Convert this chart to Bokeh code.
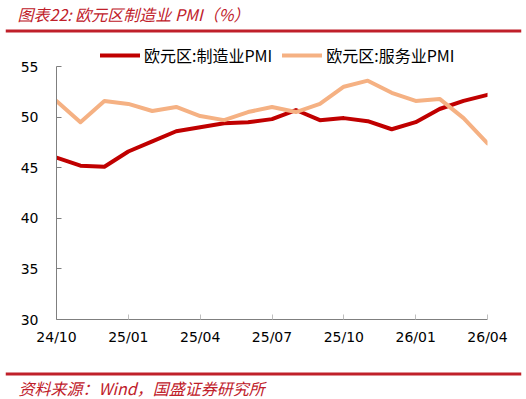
from bokeh.plotting import figure
from bokeh.layouts import column
from bokeh.models import Range1d, FixedTicker, Legend, LegendItem, Label, Span
from bokeh.embed import file_html
from bokeh.resources import INLINE

# ---- data ----
tick_labels = ["24/10", "25/01", "25/04", "25/07", "25/10", "26/01", "26/04"]
tick_pos = [0, 3, 6, 9, 12, 15, 18]
month_idx = list(range(19))
mfg_pmi = [46.0, 45.2, 45.1, 46.6, 47.6, 48.6, 49.0, 49.4, 49.5, 49.8, 50.7,
           49.7, 49.9, 49.6, 48.8, 49.5, 50.8, 51.6, 52.2]
svc_pmi = [51.6, 49.5, 51.6, 51.3, 50.6, 51.0, 50.1, 49.7, 50.5, 51.0, 50.5,
           51.3, 53.0, 53.6, 52.4, 51.6, 51.8, 49.9, 47.4]
series_names = ["欧元区:制造业PMI", "欧元区:服务业PMI"]
title_text = "图表22:  欧元区制造业 PMI（%）"
source_text = "资料来源：Wind，国盛证券研究所"

W = 526
HEAD_H, MAIN_H, FOOT_H = 40, 315, 44
L, R = 56, 39
frame_h = 279  # canvas 40 .. 319
px_per_unit = (319 - 66) / 25.0
y_top = 30 + frame_h / px_per_unit

red = "#C00000"
peach = "#F5B183"
title_red = "#C0202A"
cjk = "Noto Sans CJK SC"


def banner(height, line_y, text, text_y, text_x):
    f = figure(width=W, height=height, output_backend="svg", toolbar_location=None,
               x_range=Range1d(0, 1), y_range=Range1d(height, 0),
               x_axis_type=None, y_axis_type=None, frame_align=False,
               min_border_left=5, min_border_right=5, min_border_top=0, min_border_bottom=0)
    f.outline_line_color = None
    f.grid.visible = False
    f.add_layout(Span(location=line_y, dimension="width", line_color=title_red, line_width=3))
    f.add_layout(Label(x=text_x - 5, y=height - text_y, x_units="screen", y_units="screen",
                       text=text, text_font=cjk, text_font_style="italic",
                       text_font_size="16px", text_color=title_red, text_baseline="middle"))
    return f


head = banner(HEAD_H, 30.5, title_text, 13, 17)
foot = banner(FOOT_H, 373.5 - (HEAD_H + MAIN_H), source_text, 387 - (HEAD_H + MAIN_H), 18)

p = figure(width=W, height=MAIN_H, output_backend="svg", toolbar_location=None,
           x_range=Range1d(0, 18), y_range=Range1d(30, y_top), frame_align=False,
           min_border_left=L, min_border_right=R, min_border_top=0,
           min_border_bottom=MAIN_H - frame_h)
p.outline_line_color = None
p.grid.visible = False

r1 = p.line(month_idx, mfg_pmi, line_color=red, line_width=4, line_join="round", line_cap="round")
r2 = p.line(month_idx, svc_pmi, line_color=peach, line_width=4, line_join="round", line_cap="round")

font = "DejaVu Sans"
xa = p.xaxis[0]
xa.ticker = FixedTicker(ticks=tick_pos)
xa.major_label_overrides = {t: s for t, s in zip(tick_pos, tick_labels)}
xa.minor_tick_line_color = None
xa.major_tick_in = 5
xa.major_tick_out = 0
xa.major_tick_line_color = "#BFBFBF"
xa.axis_line_color = "#7F7F7F"
xa.major_label_text_font = font
xa.major_label_text_font_size = "14px"
xa.major_label_text_color = "#000000"
xa.major_label_standoff = 9

ya = p.yaxis[0]
ya.ticker = FixedTicker(ticks=[30, 35, 40, 45, 50, 55])
ya.bounds = (30, 55)
ya.minor_tick_line_color = None
ya.major_tick_in = 5
ya.major_tick_out = 0
ya.major_tick_line_color = "#7F7F7F"
ya.axis_line_color = "#7F7F7F"
ya.major_label_text_font = font
ya.major_label_text_font_size = "14px"
ya.major_label_text_color = "#000000"
ya.major_label_standoff = 18

legend = Legend(items=[LegendItem(label=series_names[0], renderers=[r1]),
                       LegendItem(label=series_names[1], renderers=[r2])],
                orientation="horizontal", location=(44, frame_h - 7 - 20),
                margin=0, padding=0, spacing=10, glyph_width=40, glyph_height=20,
                label_standoff=4, label_height=20,
                label_text_font=cjk, label_text_font_size="16px",
                label_text_color="#000000", border_line_color=None,
                background_fill_alpha=0)
p.add_layout(legend)

page = column(head, p, foot, spacing=0)
open("out.html", "w").write(file_html(page, INLINE))
